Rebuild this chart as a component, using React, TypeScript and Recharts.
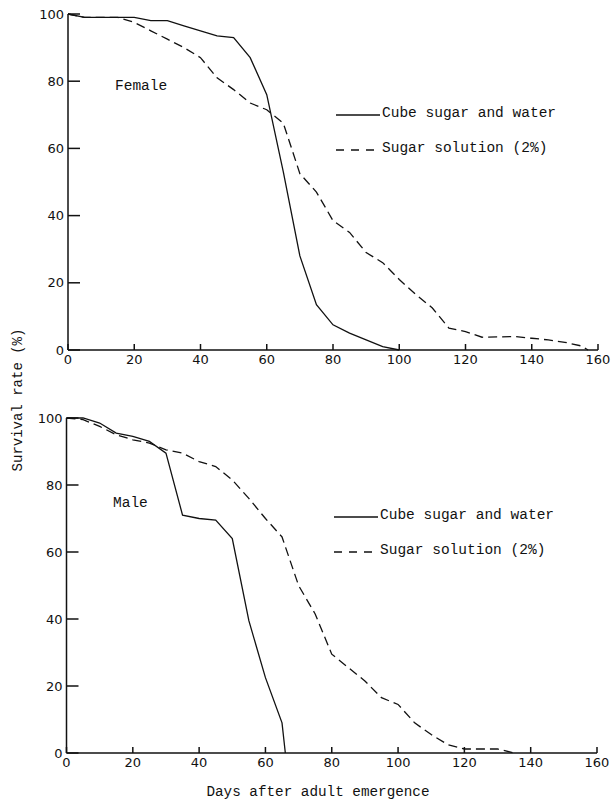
import React from 'react';
import { LineChart, Line, XAxis, YAxis } from 'recharts';

// ---- Data (days after adult emergence, survival rate %) ----
const femaleCubeDays = [0, 5, 10, 15, 20, 25, 30, 35, 40, 45, 50, 55, 60, 65, 70, 75, 80, 85, 90, 95, 100];
const femaleCubeRate = [100, 99, 99, 99, 99, 98, 98, 96.5, 95, 93.5, 93, 87, 76, 53, 28, 13.5, 7.5, 5, 3, 1, 0];

const femaleSolDays = [0, 5, 10, 15, 20, 25, 30, 35, 40, 45, 50, 55, 60, 65, 70, 75, 80, 85, 90, 95, 100, 105, 110, 115, 120, 125, 130, 135, 140, 145, 150, 155, 157];
const femaleSolRate = [100, 99, 99, 99, 97.5, 95, 92.5, 90, 87, 81, 77.5, 73.5, 71.5, 67.5, 52.5, 47, 38.5, 35, 29, 26, 21, 16.5, 12.5, 6.5, 5.5, 3.8, 3.9, 4, 3.5, 3, 2.3, 1.2, 0];

const maleCubeDays = [0, 5, 10, 15, 20, 25, 30, 35, 40, 45, 50, 55, 60, 65, 66];
const maleCubeRate = [100, 100, 98.5, 95.5, 94.5, 93, 89.5, 71, 70, 69.5, 64, 39.5, 22.5, 9, 0];

const maleSolDays = [0, 5, 10, 15, 20, 25, 30, 35, 40, 45, 50, 55, 60, 65, 70, 75, 80, 85, 90, 95, 100, 105, 110, 115, 120, 125, 130, 135];
const maleSolRate = [100, 99.5, 97.5, 95, 93.5, 92.5, 90.5, 89.5, 87, 85.5, 81.5, 76, 70, 64.5, 50, 41.5, 29.5, 25.5, 21.5, 16.5, 14.5, 9, 5.5, 2.5, 1.2, 1.2, 1.2, 0];

const xTicks = [0, 20, 40, 60, 80, 100, 120, 140, 160];
const yTicks = [0, 20, 40, 60, 80, 100];

const seriesNames = ['Cube sugar and water', 'Sugar solution (2%)'];
const panelLabels = ['Female', 'Male'];
const xAxisTitle = 'Days after adult emergence';
const yAxisTitle = 'Survival rate (%)';

const zip = (d: number[], r: number[]) => d.map((day, i) => ({ day, rate: r[i] }));

const MONO = '"Liberation Mono", "DejaVu Sans Mono", monospace';
const SANS = '"DejaVu Sans", sans-serif';

const LegendBox = ({ left, top }: { left: number; top: number }) => (
  <div style={{ position: 'absolute', left, top, fontFamily: MONO, fontSize: 14.5, color: '#111', width: 260 }}>
    <div style={{ position: 'relative', height: 22 }}>
      <svg width={46} height={22} style={{ position: 'absolute', left: 0, top: 0 }}>
        <line x1={1} y1={12} x2={45} y2={12} stroke="#111" strokeWidth={1.3} />
      </svg>
      <span style={{ position: 'absolute', left: 47, top: 2, whiteSpace: 'nowrap' }}>{seriesNames[0]}</span>
    </div>
    <div style={{ position: 'relative', height: 22, marginTop: 13 }}>
      <svg width={46} height={22} style={{ position: 'absolute', left: 0, top: 0 }}>
        <line x1={1} y1={12} x2={45} y2={12} stroke="#111" strokeWidth={1.3} strokeDasharray="8 7" />
      </svg>
      <span style={{ position: 'absolute', left: 47, top: 2, whiteSpace: 'nowrap' }}>{seriesNames[1]}</span>
    </div>
  </div>
);

type PanelProps = {
  cube: { day: number; rate: number }[];
  sol: { day: number; rate: number }[];
  margin: { top: number; right: number; bottom: number; left: number };
};

const Panel = ({ cube, sol, margin }: PanelProps) => (
  <LineChart width={611} height={400} margin={margin}>
    <XAxis
      type="number"
      dataKey="day"
      domain={[0, 160]}
      ticks={xTicks}
      interval={0}
      tickSize={-6}
      tickMargin={11}
      height={30}
      axisLine={{ stroke: '#111', strokeWidth: 1.5 }}
      tickLine={{ stroke: '#111', strokeWidth: 1.5 }}
      tick={{ fill: '#111', fontSize: 13, fontFamily: SANS }}
      allowDuplicatedCategory={false}
    />
    <YAxis
      type="number"
      dataKey="rate"
      domain={[0, 100]}
      ticks={yTicks}
      interval={0}
      tickSize={-12}
      tickMargin={16}
      width={60}
      axisLine={{ stroke: '#111', strokeWidth: 1.5 }}
      tickLine={{ stroke: '#111', strokeWidth: 1.5 }}
      tick={{ fill: '#111', fontSize: 13, fontFamily: SANS }}
    />
    <Line
      data={cube}
      dataKey="rate"
      name={seriesNames[0]}
      type="linear"
      stroke="#111"
      strokeWidth={1.3}
      dot={false}
      isAnimationActive={false}
    />
    <Line
      data={sol}
      dataKey="rate"
      name={seriesNames[1]}
      type="linear"
      stroke="#111"
      strokeWidth={1.3}
      strokeDasharray="9 5"
      dot={false}
      isAnimationActive={false}
    />
  </LineChart>
);

export default function App() {
  return (
    <div style={{ position: 'absolute', left: 0, top: 0, width: 611, height: 800, background: '#fff', overflow: 'hidden' }}>
      <div style={{ position: 'absolute', left: 0, top: 0 }}>
        <Panel
          cube={zip(femaleCubeDays, femaleCubeRate)}
          sol={zip(femaleSolDays, femaleSolRate)}
          margin={{ top: 14, right: 13, bottom: 20, left: 8 }}
        />
      </div>
      <div style={{ position: 'absolute', left: 0, top: 400 }}>
        <Panel
          cube={zip(maleCubeDays, maleCubeRate)}
          sol={zip(maleSolDays, maleSolRate)}
          margin={{ top: 18, right: 14, bottom: 17, left: 6.5 }}
        />
      </div>
      <LegendBox left={335} top={103} />
      <LegendBox left={333} top={505} />
      <div style={{ position: 'absolute', left: 115, top: 78, fontFamily: MONO, fontSize: 14.5, color: '#111' }}>{panelLabels[0]}</div>
      <div style={{ position: 'absolute', left: 113, top: 495, fontFamily: MONO, fontSize: 14.5, color: '#111' }}>{panelLabels[1]}</div>
      <div
        style={{
          position: 'absolute',
          left: 18,
          top: 400,
          transform: 'translate(-50%, -50%) rotate(-90deg)',
          fontFamily: MONO,
          fontSize: 14,
          color: '#111',
          whiteSpace: 'nowrap',
        }}
      >
        {yAxisTitle}
      </div>
      <div
        style={{
          position: 'absolute',
          left: 318,
          top: 792,
          transform: 'translate(-50%, -50%)',
          fontFamily: MONO,
          fontSize: 14.3,
          color: '#111',
          whiteSpace: 'nowrap',
        }}
      >
        {xAxisTitle}
      </div>
    </div>
  );
}
